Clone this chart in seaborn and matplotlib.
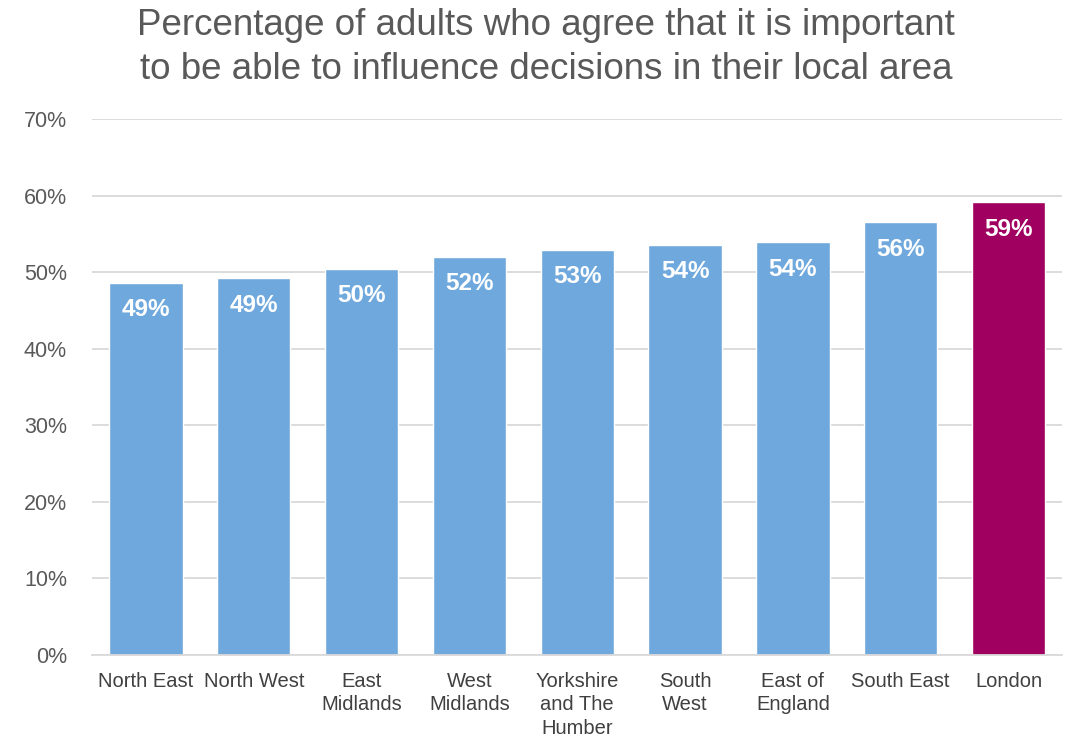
import matplotlib
matplotlib.use("Agg")
import matplotlib.pyplot as plt
import seaborn as sns
import pandas as pd

regions = ["North East", "North West", "East\nMidlands", "West\nMidlands",
           "Yorkshire\nand The\nHumber", "South\nWest", "East of\nEngland",
           "South East", "London"]
values = [48.6, 49.2, 50.4, 52.0, 52.9, 53.6, 53.9, 56.5, 59.1]
labels = ["49%", "49%", "50%", "52%", "53%", "54%", "54%", "56%", "59%"]
highlight = [False] * 8 + [True]

sns.set_theme(style="white")
plt.rcParams['font.family'] = ['Liberation Sans', 'DejaVu Sans']

df = pd.DataFrame({"region": regions, "value": values})
blue = "#6FA8DC"
magenta = "#A0005F"
palette = [magenta if h else blue for h in highlight]

fig = plt.figure(figsize=(10.71, 7.38), dpi=100)
ax = fig.add_axes([0.086, 0.1125, 0.906, 0.7263])

sns.barplot(data=df, x="region", y="value", hue="region", palette=palette,
            legend=False, width=0.68, saturation=1, ax=ax)

for i, (v, lab) in enumerate(zip(values, labels)):
    ax.text(i, v - 3.5, lab, ha="center", va="center", color="white",
            fontsize=17.5, fontweight="bold")

ax.set_ylim(0, 70)
ax.set_xlim(-0.5, len(regions) - 0.5)
ax.set_yticks(range(0, 71, 10))
ax.set_yticklabels([f"{t}%" for t in range(0, 71, 10)], fontsize=15.5, color="#595959")
ax.tick_params(axis="x", labelsize=14.5, labelcolor="#404040", length=0, pad=12)
ax.tick_params(axis="y", length=0, pad=18)
for t in ax.get_xticklabels():
    t.set_linespacing(1.3)
ax.yaxis.grid(True, color="#D9D9D9", linewidth=1.3)
ax.set_axisbelow(True)
for s in ["top", "right", "left"]:
    ax.spines[s].set_visible(False)
ax.spines["bottom"].set_color("#D9D9D9")
ax.spines["bottom"].set_linewidth(1.3)
ax.set_xlabel("")
ax.set_ylabel("")

fig.text(0.51, 0.936, "Percentage of adults who agree that it is important\nto be able to influence decisions in their local area",
         ha="center", va="center", fontsize=26.5, color="#595959", linespacing=1.35)

fig.savefig("out.png", dpi=100)
